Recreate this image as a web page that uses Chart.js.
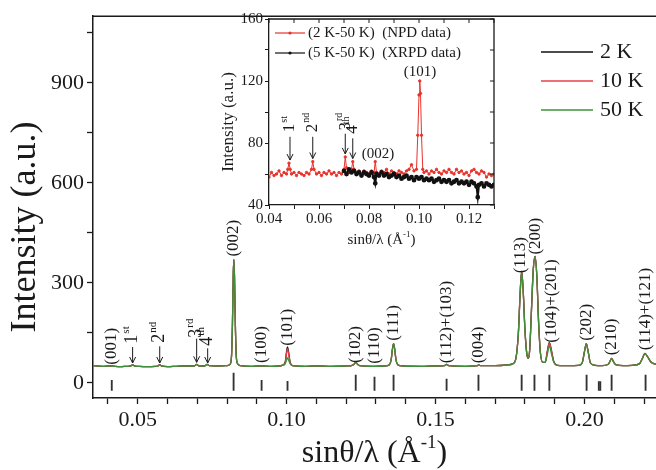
<!DOCTYPE html>
<html>
<head>
<meta charset="utf-8">
<script src="https://cdn.jsdelivr.net/npm/chart.js@4.4.0/dist/chart.umd.min.js"></script>
<style>
  body { margin: 0; background: #fff; }
  #wrap { position: relative; width: 656px; height: 470px; }
  #main { position: absolute; left: 0; top: 0; }
  #inset { position: absolute; left: 215px; top: 5px; }
</style>
</head>
<body>
<div id="wrap">
  <canvas id="main" width="656" height="470"></canvas>
  <canvas id="inset" width="300" height="250"></canvas>
</div>
<script>
const serif = "'Liberation Serif', 'Times New Roman', serif";
const ink = "#1a1a1a";

// main pattern: sin(theta)/lambda and intensities for the three temperatures
const xMain = [
  0.0350, 0.0380, 0.0410, 0.0440, 0.0465, 0.0477, 0.0483, 0.0489, 0.0500, 0.0530,
  0.0560, 0.0568, 0.0574, 0.0580, 0.0600, 0.0630, 0.0660, 0.0690, 0.0698, 0.0706,
  0.0725, 0.0733, 0.0741, 0.0770, 0.0800, 0.0810, 0.0815, 0.0818, 0.0821, 0.0823,
  0.0825, 0.0828, 0.0831, 0.0836, 0.0845, 0.0880, 0.0910, 0.0950, 0.0975, 0.0985,
  0.0995, 0.1000, 0.1003, 0.1006, 0.1012, 0.1020, 0.1060, 0.1100, 0.1150, 0.1200,
  0.1220, 0.1228, 0.1232, 0.1236, 0.1245, 0.1290, 0.1330, 0.1345, 0.1351, 0.1355,
  0.1359, 0.1363, 0.1367, 0.1373, 0.1390, 0.1450, 0.1500, 0.1530, 0.1537, 0.1544,
  0.1600, 0.1640, 0.1645, 0.1650, 0.1700, 0.1740, 0.1760, 0.1770, 0.1778, 0.1784,
  0.1789, 0.1794, 0.1800, 0.1806, 0.1811, 0.1816, 0.1822, 0.1828, 0.1834, 0.1840,
  0.1846, 0.1852, 0.1860, 0.1868, 0.1875, 0.1882, 0.1889, 0.1897, 0.1910, 0.1950,
  0.1980, 0.1992, 0.2000, 0.2006, 0.2012, 0.2020, 0.2035, 0.2060, 0.2080, 0.2086,
  0.2091, 0.2096, 0.2105, 0.2130, 0.2160, 0.2185, 0.2195, 0.2203, 0.2212, 0.2224,
  0.2240
];
const int2K = [
  52, 50, 51, 49, 50, 51, 55, 51, 50, 49,
  50, 51, 55, 51, 49, 50, 51, 51, 56, 51,
  51, 56, 52, 51, 52, 56, 80, 170, 330, 370,
  320, 170, 80, 57, 52, 50, 51, 50, 51, 53,
  62, 96, 108, 96, 62, 52, 50, 51, 50, 51,
  53, 58, 64, 58, 52, 50, 51, 55, 70, 100,
  118, 100, 70, 55, 51, 50, 51, 52, 56, 52,
  50, 52, 54, 52, 52, 54, 58, 75, 150, 270,
  335, 280, 160, 90, 74, 100, 220, 340, 380, 320,
  180, 90, 62, 62, 95, 122, 98, 64, 53, 52,
  53, 60, 95, 118, 95, 60, 53, 52, 56, 66,
  74, 66, 55, 52, 53, 58, 75, 89, 78, 62,
  56
];
const int10K = [
  52, 50, 51, 49, 50, 51, 55, 51, 50, 49,
  50, 51, 55, 51, 49, 50, 51, 51, 56, 51,
  51, 56, 52, 51, 52, 56, 80, 170, 330, 370,
  320, 170, 80, 57, 52, 50, 51, 50, 51, 53,
  60, 90, 103, 90, 60, 52, 50, 51, 50, 51,
  53, 58, 64, 58, 52, 50, 51, 55, 70, 100,
  118, 100, 70, 55, 51, 50, 51, 52, 56, 52,
  50, 52, 54, 52, 52, 54, 58, 75, 150, 270,
  335, 280, 160, 90, 74, 100, 220, 340, 380, 320,
  180, 90, 62, 62, 92, 120, 96, 63, 53, 52,
  53, 60, 95, 118, 95, 60, 53, 52, 56, 66,
  74, 66, 55, 52, 53, 58, 75, 89, 78, 62,
  56
];
const int50K = [
  52, 50, 51, 49, 50, 51, 55, 51, 50, 49,
  50, 51, 55, 51, 49, 50, 51, 51, 56, 51,
  51, 56, 52, 51, 52, 56, 80, 170, 330, 370,
  320, 170, 80, 57, 52, 50, 51, 50, 51, 53,
  57, 70, 76, 70, 57, 52, 50, 51, 50, 51,
  53, 58, 64, 58, 52, 50, 51, 55, 70, 100,
  118, 100, 70, 55, 51, 50, 51, 52, 56, 52,
  50, 52, 54, 52, 52, 54, 58, 75, 150, 270,
  335, 280, 160, 90, 74, 100, 220, 340, 380, 320,
  180, 90, 62, 62, 85, 112, 88, 62, 53, 52,
  53, 60, 95, 118, 95, 60, 53, 52, 56, 66,
  74, 66, 55, 52, 53, 58, 75, 89, 78, 62,
  56
];
const tempLabels = ["2 K", "10 K", "50 K"];

// Bragg reflection markers
const braggPos = [0.0413, 0.0822, 0.0916, 0.1003, 0.1232, 0.1295, 0.1359, 0.1537, 0.1644,
  0.1789, 0.1832, 0.1882, 0.2007, 0.2048, 0.2053, 0.2091, 0.2205];
const braggTop = [8, 30, 8, 5, 24, 18, 24, 12, 24, 24, 24, 24, 24, 4, 4, 24, 24];
const braggBottom = -22;

// peak indexing labels
const peakNames = ["(001)", "(100)", "(101)", "(002)", "(102)", "(110)", "(111)", "(112)+(103)",
  "(004)", "(113)", "(200)", "(104)+(201)", "(202)", "(210)", "(114)+(121)"];
const peakLabelX = [0.0413, 0.0916, 0.1002, 0.0822, 0.1232, 0.1295, 0.1359, 0.1537,
  0.1644, 0.1786, 0.1836, 0.1888, 0.2007, 0.2091, 0.2205];
const peakLabelY = [55, 60, 112, 379, 60, 58, 127, 59, 59, 329, 385, 121, 127, 83, 98];

// magnetic satellites (main)
const satText = ["1", "2", "3", "4"];
const satSup = ["st", "nd", "rd", "th"];
const satPos = [0.0483, 0.0574, 0.0698, 0.0735];
const satTextY = [118, 121, 136, 112];
const satArrowFrom = [108, 110, 133, 104];
const satArrowTo = [60, 60, 62, 60];

// inset: difference patterns
const npdX = [
  0.040, 0.041, 0.042, 0.043, 0.044, 0.045, 0.046, 0.047, 0.0475, 0.048, 0.0485, 0.049,
  0.050, 0.051, 0.052, 0.053, 0.054, 0.055, 0.056, 0.057, 0.0575, 0.058, 0.059,
  0.060, 0.061, 0.062, 0.063, 0.064, 0.065, 0.066, 0.067, 0.068, 0.069,
  0.070, 0.0705, 0.071, 0.072, 0.073, 0.0735, 0.074, 0.075, 0.076, 0.077, 0.078, 0.079,
  0.080, 0.081, 0.082, 0.0825, 0.083, 0.084, 0.085, 0.086, 0.087, 0.088, 0.089,
  0.090, 0.091, 0.092, 0.093, 0.094, 0.095, 0.096, 0.097, 0.098, 0.099,
  0.0995, 0.1000, 0.1003, 0.1006, 0.1010, 0.1015, 0.102, 0.103, 0.104, 0.105,
  0.106, 0.107, 0.108, 0.109, 0.110, 0.111, 0.112, 0.113, 0.114, 0.115, 0.116,
  0.117, 0.118, 0.119, 0.120, 0.121, 0.122, 0.123, 0.124, 0.125, 0.126, 0.127,
  0.128, 0.129, 0.130
];
const npdY = [
  58, 61, 59, 60, 62, 59, 61, 60, 63, 67, 63, 60,
  61, 59, 61, 60, 59, 61, 60, 63, 68, 63, 60,
  61, 59, 61, 60, 62, 60, 61, 59, 61, 60,
  63, 71, 64, 61, 63, 68, 63, 61, 62, 60, 62, 61,
  60, 62, 61, 68, 61, 60, 62, 61, 63, 60, 62,
  61, 60, 62, 61, 60, 62, 63, 66, 62, 63,
  85, 111, 120, 112, 85, 63, 61, 62, 60, 62,
  61, 63, 61, 60, 62, 61, 63, 61, 60, 63, 61,
  62, 60, 61, 59, 62, 63, 61, 60, 62, 61, 58,
  60, 59, 60
];
const xrpdX = [
  0.070, 0.071, 0.072, 0.073, 0.074, 0.075, 0.076, 0.077, 0.078, 0.079,
  0.080, 0.081, 0.082, 0.0825, 0.083, 0.084, 0.085, 0.086, 0.087, 0.088, 0.089,
  0.090, 0.091, 0.092, 0.093, 0.094, 0.095, 0.096, 0.097, 0.098, 0.099,
  0.100, 0.101, 0.102, 0.103, 0.104, 0.105, 0.106, 0.107, 0.108, 0.109,
  0.110, 0.111, 0.112, 0.113, 0.114, 0.115, 0.116, 0.117, 0.118, 0.119,
  0.120, 0.121, 0.122, 0.123, 0.1235, 0.124, 0.125, 0.126, 0.127, 0.128, 0.129, 0.130
];
const xrpdY = [
  62, 60, 63, 61, 62, 60, 61, 59, 61, 60,
  59, 61, 58, 54, 60, 59, 61, 59, 60, 58, 59,
  60, 58, 59, 57, 58, 59, 57, 58, 56, 58,
  57, 58, 56, 57, 56, 57, 55, 56, 57, 55,
  56, 55, 56, 54, 55, 56, 54, 55, 54, 55,
  53, 55, 54, 52, 45, 53, 54, 52, 54, 53, 52, 53
];
const insetLabels = ["(2 K-50 K)  (NPD data)", "(5 K-50 K)  (XRPD data)"];

// inset satellites
const inSatPos = [0.0484, 0.0575, 0.0705, 0.0735];
const inSatTextY = [87, 87, 88, 86];
const inSatArrowFrom = [84, 84, 86, 83];
const inSatArrowTo = [69, 70, 73, 70];

const pts = (xs, ys) => xs.map((x, i) => ({ x: x, y: ys[i] }));

//rotated text (reading bottom to top), optional superscript
function vText(ctx, x, y, main, sup, size) {
  ctx.save();
  ctx.translate(x, y);
  ctx.rotate(-Math.PI / 2);
  ctx.font = size + "px " + serif;
  ctx.textAlign = "left";
  ctx.textBaseline = "middle";
  ctx.fillText(main, 0, 0);
  if (sup) {
    const w = ctx.measureText(main).width;
    ctx.font = Math.round(size * 0.6) + "px " + serif;
    ctx.fillText(sup, w + 1, -size * 0.35);
  }
  ctx.restore();
}

function arrow(ctx, x, y1, y2) {
  ctx.beginPath();
  ctx.moveTo(x, y1);
  ctx.lineTo(x, y2);
  ctx.moveTo(x - 3, y2 - 6);
  ctx.lineTo(x, y2);
  ctx.lineTo(x + 3, y2 - 6);
  ctx.stroke();
}

// text with a superscript part, centred on cx
function supTitle(ctx, cx, cy, before, sup, after, size) {
  ctx.save();
  ctx.textBaseline = "middle";
  ctx.textAlign = "left";
  const big = size + "px " + serif;
  const small = Math.round(size * 0.6) + "px " + serif;
  ctx.font = big;
  const w1 = ctx.measureText(before).width;
  const w3 = ctx.measureText(after).width;
  ctx.font = small;
  const w2 = ctx.measureText(sup).width;
  let x0 = cx - (w1 + w2 + w3) / 2;
  ctx.font = big;
  ctx.fillText(before, x0, cy);
  ctx.font = small;
  ctx.fillText(sup, x0 + w1, cy - size * 0.35);
  ctx.font = big;
  ctx.fillText(after, x0 + w1 + w2, cy);
  ctx.restore();
}

const onGrid = (v, step) => Math.abs(v / step - Math.round(v / step)) < 1e-6;

const mainDecor = {
  id: "mainDecor",
  afterDraw(chart) {
    const { ctx, chartArea: a } = chart;
    const x = chart.scales.x, y = chart.scales.y;
    ctx.save();
    ctx.strokeStyle = ink;
    ctx.fillStyle = ink;
    ctx.lineWidth = 1.5;
    ctx.beginPath();
    ctx.moveTo(a.left, a.top);
    ctx.lineTo(a.right, a.top);
    ctx.stroke();

    peakNames.forEach((t, i) => {
      vText(ctx, x.getPixelForValue(peakLabelX[i]), y.getPixelForValue(peakLabelY[i]), t, "", 17);
    });

    ctx.lineWidth = 1;
    satPos.forEach((p, i) => {
      const px = x.getPixelForValue(p);
      vText(ctx, px, y.getPixelForValue(satTextY[i]), satText[i], satSup[i], 18);
      arrow(ctx, px, y.getPixelForValue(satArrowFrom[i]), y.getPixelForValue(satArrowTo[i]));
    });

    //legend
    ctx.font = "22px " + serif;
    ctx.textBaseline = "middle";
    ctx.textAlign = "left";
    [52, 81, 110].forEach((ly, i) => {
      const ds = chart.data.datasets[i];
      ctx.strokeStyle = ds.borderColor;
      ctx.lineWidth = 1.5;
      ctx.beginPath();
      ctx.moveTo(541, ly);
      ctx.lineTo(593, ly);
      ctx.stroke();
      ctx.fillStyle = ink;
      ctx.fillText(ds.label, 600, ly);
    });

    //axis titles
    ctx.fillStyle = ink;
    ctx.save();
    ctx.translate(26, 227);
    ctx.rotate(-Math.PI / 2);
    ctx.font = "36px " + serif;
    ctx.textAlign = "center";
    ctx.textBaseline = "middle";
    ctx.fillText("Intensity (a.u.)", 0, 0);
    ctx.restore();
    supTitle(ctx, (a.left + a.right) / 2, 454, "sin\u03b8/\u03bb (\u00c5", "-1", ")", 32);
    ctx.restore();
  }
};

new Chart(document.getElementById("main"), {
  type: "line",
  data: {
    datasets: [
      { label: tempLabels[0], data: pts(xMain, int2K), borderColor: "#111111", borderWidth: 1.3, order: 2 },
      { label: tempLabels[1], data: pts(xMain, int10K), borderColor: "#e8404a", borderWidth: 1.3, order: 1 },
      { label: tempLabels[2], data: pts(xMain, int50K), borderColor: "#3f8f3a", borderWidth: 1.3, order: 0 },
      {
        type: "bar",
        label: "Bragg",
        data: braggPos.map((p, i) => ({ x: p, y: [braggBottom, braggTop[i]] })),
        backgroundColor: "#333333",
        barThickness: 1.2,
        order: 3
      }
    ]
  },
  options: {
    responsive: false,
    animation: false,
    events: [],
    elements: {
      point: { radius: 0 },
      line: { cubicInterpolationMode: "monotone" }
    },
    layout: { padding: { top: 11, left: 0, right: 0, bottom: 0 } },
    plugins: { legend: { display: false }, tooltip: { enabled: false } },
    scales: {
      x: {
        type: "linear",
        min: 0.035,
        max: 0.224,
        offset: false,
        afterBuildTicks: s => { s.ticks = s.ticks.filter(t => onGrid(t.value, 0.01)); },
        afterFit: s => { s.height = 72; },
        ticks: {
          stepSize: 0.01,
          includeBounds: false,
          maxTicksLimit: 100,
          autoSkip: false,
          maxRotation: 0,
          padding: 3,
          color: ink,
          font: { family: serif, size: 22 },
          callback: v => (onGrid(v, 0.05) ? v.toFixed(2) : "")
        },
        grid: { drawOnChartArea: false, offset: false, tickLength: 6, tickWidth: 1.3, color: ink },
        border: { display: true, color: ink, width: 1.5 }
      },
      y: {
        min: -45,
        max: 1100,
        afterBuildTicks: s => { s.ticks = s.ticks.filter(t => onGrid(t.value, 150)); },
        afterFit: s => { s.width = 93; },
        ticks: {
          stepSize: 150,
          includeBounds: false,
          maxTicksLimit: 100,
          autoSkip: false,
          padding: 3,
          color: ink,
          font: { family: serif, size: 22 },
          callback: v => (onGrid(v, 300) ? String(v) : "")
        },
        grid: { drawOnChartArea: false, tickLength: 6, tickWidth: 1.3, color: ink },
        border: { display: true, color: ink, width: 1.5 }
      }
    }
  },
  plugins: [mainDecor]
});

const insetDecor = {
  id: "insetDecor",
  afterDraw(chart) {
    const { ctx, chartArea: a } = chart;
    const x = chart.scales.x, y = chart.scales.y;
    ctx.save();
    ctx.strokeStyle = ink;
    ctx.fillStyle = ink;
    ctx.lineWidth = 1.3;
    ctx.beginPath();
    ctx.moveTo(a.left, a.top);
    ctx.lineTo(a.right, a.top);
    ctx.lineTo(a.right, a.bottom);
    ctx.stroke();
    ctx.lineWidth = 1;
    y.ticks.forEach(t => {
      const py = y.getPixelForValue(t.value);
      ctx.beginPath(); ctx.moveTo(a.right, py); ctx.lineTo(a.right - 4, py); ctx.stroke();
    });
    x.ticks.forEach(t => {
      const px = x.getPixelForValue(t.value);
      ctx.beginPath(); ctx.moveTo(px, a.top); ctx.lineTo(px, a.top + 4); ctx.stroke();
    });

    //legend
    ctx.font = "15px " + serif;
    ctx.textBaseline = "middle";
    ctx.textAlign = "left";
    [28, 48].forEach((ly, i) => {
      const ds = chart.data.datasets[i];
      ctx.strokeStyle = ds.borderColor;
      ctx.fillStyle = ds.borderColor;
      ctx.lineWidth = 1.2;
      ctx.beginPath(); ctx.moveTo(60, ly); ctx.lineTo(90, ly); ctx.stroke();
      ctx.beginPath(); ctx.arc(75, ly, 1.6, 0, Math.PI * 2); ctx.fill();
      ctx.fillStyle = ink;
      ctx.fillText(insetLabels[i], 93, ly);
    });

    //satellites
    ctx.strokeStyle = ink;
    ctx.fillStyle = ink;
    ctx.lineWidth = 1;
    inSatPos.forEach((p, i) => {
      const px = x.getPixelForValue(p);
      vText(ctx, px, y.getPixelForValue(inSatTextY[i]), satText[i], satSup[i], 17);
      arrow(ctx, px, y.getPixelForValue(inSatArrowFrom[i]), y.getPixelForValue(inSatArrowTo[i]));
    });
    ctx.font = "15px " + serif;
    ctx.textAlign = "center";
    ctx.fillText("(002)", x.getPixelForValue(0.0836), y.getPixelForValue(73));
    ctx.fillText("(101)", x.getPixelForValue(0.1004), y.getPixelForValue(126));

    //titles
    ctx.save();
    ctx.translate(14, 117);
    ctx.rotate(-Math.PI / 2);
    ctx.font = "17px " + serif;
    ctx.textAlign = "center";
    ctx.fillText("Intensity (a.u.)", 0, 0);
    ctx.restore();
    supTitle(ctx, (a.left + a.right) / 2, 235, "sin\u03b8/\u03bb (\u00c5", "-1", ")", 15);
    ctx.restore();
  }
};

new Chart(document.getElementById("inset"), {
  type: "line",
  data: {
    datasets: [
      {
        label: insetLabels[0], data: pts(npdX, npdY), borderColor: "#e8322b",
        backgroundColor: "#e8322b", borderWidth: 1, pointRadius: 1.2, order: 1
      },
      {
        label: insetLabels[1], data: pts(xrpdX, xrpdY), borderColor: "#111111",
        backgroundColor: "#111111", borderWidth: 2, pointRadius: 1.4, order: 0
      }
    ]
  },
  options: {
    responsive: false,
    animation: false,
    events: [],
    layout: { padding: { top: 14, left: 0, right: 21, bottom: 0 } },
    plugins: { legend: { display: false }, tooltip: { enabled: false } },
    scales: {
      x: {
        type: "linear",
        min: 0.04,
        max: 0.13,
        afterBuildTicks: s => { s.ticks = s.ticks.filter(t => onGrid(t.value, 0.01)); },
        afterFit: s => { s.height = 50; },
        ticks: {
          stepSize: 0.01,
          maxTicksLimit: 100,
          autoSkip: false,
          maxRotation: 0,
          padding: 1,
          color: ink,
          font: { family: serif, size: 15 },
          callback: v => (onGrid(v, 0.02) ? v.toFixed(2) : "")
        },
        grid: { drawOnChartArea: false, tickLength: 4, color: ink },
        border: { display: true, color: ink, width: 1.3 }
      },
      y: {
        min: 40,
        max: 160,
        afterFit: s => { s.width = 54; },
        ticks: {
          stepSize: 20,
          autoSkip: false,
          padding: 2,
          color: ink,
          font: { family: serif, size: 15 },
          callback: v => (onGrid(v, 40) ? String(v) : "")
        },
        grid: { drawOnChartArea: false, tickLength: 4, color: ink },
        border: { display: true, color: ink, width: 1.3 }
      }
    }
  },
  plugins: [insetDecor]
});
</script>
</body>
</html>
